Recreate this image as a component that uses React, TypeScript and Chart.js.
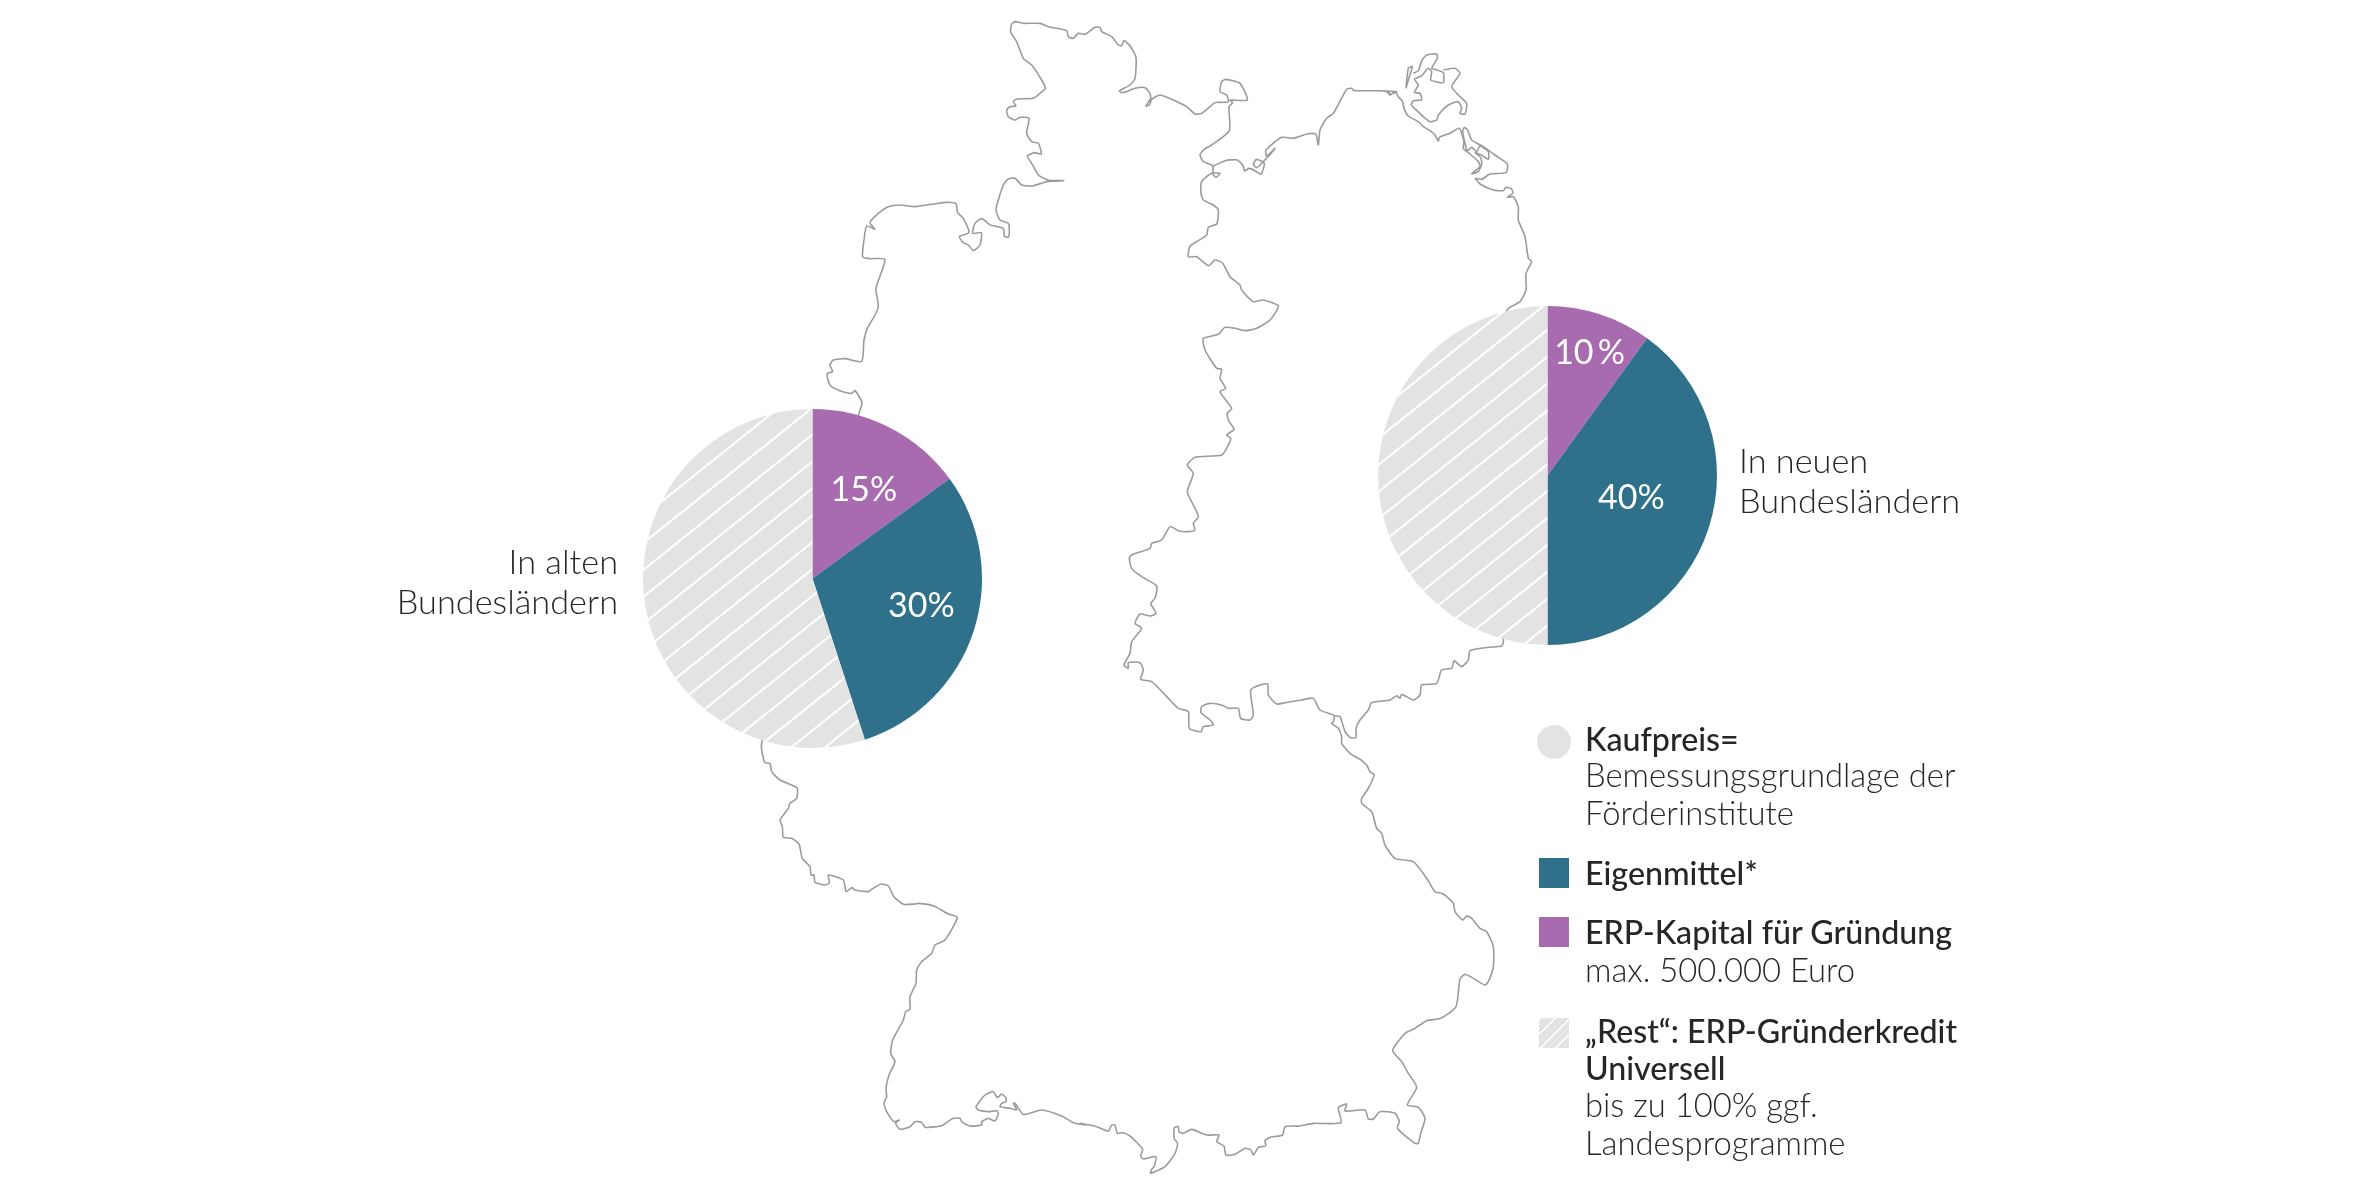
import React, { useEffect, useRef } from "react";
import { Chart, registerables } from "chart.js";

Chart.register(...registerables);

// ---- pie data -------------------------------------------------------------
const categories = ["ERP-Kapital für Gründung", "Eigenmittel", "ERP-Gründerkredit Universell"];
const altValues = [15, 30, 55];
const neuValues = [10, 40, 50];
const altLabels = ["15%", "30%", ""];
const neuLabels = ["10\u2009%", "40%", ""];
const altLabelRadius = [0.607, 0.662, 0];
const neuLabelRadius = [0.767, 0.512, 0];
const altLabelShiftDeg = [3, -4.1, 0];
const neuLabelShiftDeg = [0.9, -3.3, 0];

const TEAL = "#2f718b";
const PURPLE = "#a96baf";
const GREY = "#e3e3e3";
const LINE = "#9b9b9b";
const TEXT = "#262626";
const FONT = "Lato, 'Noto Sans', sans-serif";

type P = [number, number];
const crop = (x0: number, y0: number, pts: P[]) => pts.map(([x, y]) => ({ x: x0 + x / 3, y: y0 + y / 3 }));

const westCoast: P[] = [[205,645],[216,608],[195,572],[185,580],[150,572],[122,558],[114,540],[112,520],[128,515],[120,495],[130,480],[165,476],[215,484],[222,420],[232,385],[255,345],[265,318],[258,265],[285,178],[240,176],[218,170],[222,120],[230,78],[255,88],[240,68],[265,40],[295,20],[330,15],[375,20],[430,12],[470,7],[498,11],[503,38],[520,55],[537,97],[508,110],[520,128],[535,135],[550,152],[570,135],[574,98],[548,100],[555,70],[575,56],[600,75]];
const northSea: P[] = [[450,675],[490,685],[493,708],[505,712],[508,690],[505,670],[480,660],[468,630],[475,600],[490,555],[505,537],[525,535],[545,555],[575,558],[610,548],[625,544],[672,542],[625,541],[612,535],[595,525],[575,490],[562,468],[585,458],[604,462],[595,430],[575,425],[560,400],[567,355],[540,352],[525,360],[505,350],[500,330],[510,320],[528,318],[520,305],[530,297],[580,295],[600,280],[616,265],[605,240],[575,195],[550,175],[530,125],[512,95],[515,72],[525,65],[550,70],[600,70],[625,80],[680,92],[685,110],[700,115],[715,100],[735,103],[765,82],[780,82],[785,95],[815,110],[835,135],[845,137],[852,122],[872,140],[888,172],[885,235],[870,255],[838,273],[848,278],[885,265],[915,263],[930,280],[932,295],[918,318],[928,315],[935,298],[960,285],[1000,300],[1040,320],[1065,342],[1085,340],[1125,308],[1145,307],[1165,305],[1160,285],[1140,275],[1145,245],[1157,238],[1200,250],[1222,300],[1170,300],[1178,308],[1167,320],[1168,392],[1115,435],[1092,448],[1080,465],[1090,485],[1115,495],[1120,505],[1118,518],[1140,520],[1128,532],[1115,520],[1085,545],[1083,580],[1090,600],[1120,615],[1135,630],[1130,672],[1105,682],[1100,705],[1070,725],[1050,738],[1045,770],[1070,770],[1105,797],[1125,780],[1148,790],[1170,830],[1200,855],[1205,870],[1240,905],[1270,900],[1315,918],[1290,960],[1250,985],[1215,992],[1185,985],[1155,982],[1135,1003],[1090,1015],[1095,1050],[1130,1105],[1145,1108],[1140,1135],[1157,1165]];
const innerBorderSouth: P[] = [[360,155],[395,205],[382,220],[385,240],[402,268],[380,285],[392,295],[385,315],[365,345],[285,352],[262,375],[280,400],[262,455],[280,495],[295,530],[280,550],[285,570],[262,575],[235,572],[210,560],[185,600],[155,610],[150,625],[95,645],[88,655],[95,685],[125,710],[170,738],[165,775],[152,790],[168,820],[150,828],[120,822],[105,850],[125,865],[95,905],[90,940],[72,975],[85,985],[85,968],[120,968],[130,990],[122,1018],[155,1025],[210,1080],[235,1105],[265,1115],[268,1165],[303,1175],[310,1160],[340,1155],[330,1140],[303,1118],[305,1100],[330,1090],[370,1097],[385,1105],[415,1105],[422,1135],[450,1140],[460,1125],[452,1050],[480,1035],[503,1032],[505,1065],[530,1092],[555,1088],[605,1080],[640,1075],[660,1110],[700,1125],[703,1128],[700,1145],[695,1150],[715,1165],[725,1190],[725,1210],[750,1240],[780,1258]];
const bavariaEast: P[] = [[240,177],[260,195],[270,215],[283,225],[262,270],[245,295],[245,310],[275,335],[290,385],[305,400],[315,435],[345,475],[400,485],[440,535],[465,575],[490,582],[520,610],[525,635],[548,660],[560,648],[575,655],[600,685],[620,695],[640,740],[640,800],[628,838]];
const alpsEast: P[] = [[1215,255],[1175,232],[1155,223],[1140,237],[1128,320],[1082,355],[1040,362],[1005,385],[975,400],[938,452],[965,485],[985,520],[1010,562],[982,615],[1015,622],[1035,655],[1022,700],[1015,730],[1005,730],[952,685],[958,665],[945,640],[900,635],[880,657],[865,657],[855,630],[795,633],[800,612],[775,623],[783,668],[700,670],[660,678],[615,680],[608,705],[570,712],[555,722],[557,738],[535,742],[520,765],[513,750],[495,745],[465,763],[438,765],[432,738],[410,725],[417,705],[380,705],[335,688],[310,700],[297,695],[295,680],[283,683],[282,715],[293,730],[285,760],[255,800],[212,820],[215,808],[222,800],[228,770],[190,777],[182,768],[188,748],[165,722],[150,708],[130,698],[112,700],[105,675],[95,675],[85,693],[50,680],[0,670]];
const southWest: P[] = [[1040,1215],[1000,1208],[965,1188],[905,1170],[850,1183],[825,1150],[820,1150],[830,1170],[810,1165],[780,1160],[785,1150],[798,1145],[798,1135],[785,1122],[772,1133],[760,1115],[735,1125],[708,1160],[715,1170],[745,1175],[770,1172],[775,1180],[765,1203],[745,1195],[725,1205],[725,1215],[690,1218],[665,1205],[660,1195],[640,1195],[605,1217],[565,1222],[555,1222],[545,1207],[525,1205],[510,1220],[480,1228],[467,1210],[478,1200],[462,1205],[440,1175],[432,1150],[440,1130],[438,1105],[447,1065],[465,1025],[452,1000],[458,960],[490,900],[497,875],[510,868],[510,830],[528,790],[530,750],[545,725],[575,700],[585,675],[615,660],[652,592],[625,582],[580,557],[535,550],[525,552],[490,553],[462,530],[445,498],[423,492],[392,510],[385,515],[345,510],[335,503],[318,515],[310,480],[265,465],[268,488],[255,495],[225,487],[222,465],[213,465],[210,440],[187,415],[177,372],[155,355],[130,352],[127,320],[120,300],[145,265],[150,250],[170,235],[172,205],[160,197],[120,180],[95,155],[90,130],[75,128],[65,90],[65,68]];
const balticWest: P[] = [[190,408],[225,392],[262,390],[280,408],[283,423],[297,415],[315,422],[333,433],[343,400],[320,388],[310,402],[320,413],[340,395],[375,355],[350,378],[348,360],[395,322],[430,325],[470,312],[497,312],[505,345],[510,300],[530,265],[550,250],[590,178],[605,175],[612,182],[715,183],[720,193],[740,185]];
const balticEast: P[] = [[0,153],[20,155],[30,165],[45,155],[55,170],[68,185],[72,205],[85,228],[115,245],[130,260],[150,272],[165,285],[175,303],[178,292],[210,280],[238,265],[248,290],[252,305],[250,325],[270,342],[295,365],[300,380],[275,401],[295,395],[305,372],[302,352],[285,338],[305,345],[325,358],[325,335],[300,318],[290,335],[275,322],[262,332],[255,310],[248,275],[252,263],[262,268],[275,300],[310,320],[345,345],[382,372],[378,398],[330,402],[305,418],[286,415],[300,432],[340,450],[370,452],[378,442],[395,447],[398,460],[382,472],[400,470]];
const oder: P[] = [[1105,530],[1105,570],[1125,620],[1135,685],[1145,695],[1128,730],[1128,780],[1110,815],[1070,842]];
const czechBorder: P[] = [[1210,905],[1205,918],[1165,922],[1110,932],[1105,960],[1085,980],[1062,962],[1055,985],[1025,990],[1010,1030],[965,1035],[960,1065],[940,1080],[905,1063],[900,1075],[890,1067],[870,1080],[815,1088],[805,1110],[780,1140],[768,1165],[768,1193],[750,1192],[735,1175],[720,1130],[703,1128]];
const ruegen: P[] = [[93,195],[100,182],[125,180],[120,160],[103,157],[115,135],[103,118],[125,107],[145,85],[155,95],[152,120],[168,125],[190,128],[190,98],[165,88],[155,85],[172,55],[170,42],[140,45],[125,62],[115,92],[100,100],[115,92],[125,62]];
const ruegenEast: P[] = [[190,90],[225,85],[240,100],[215,140],[235,165],[260,190],[255,222],[240,220],[245,205],[235,185],[205,195],[175,225],[170,240],[150,245],[130,230],[93,195]];
const hiddensee: P[] = [[78,145],[85,85],[97,80],[88,110],[78,145]];

const westRing = [
  ...crop(790, 200, westCoast),
  ...crop(840, 0, northSea),
  ...crop(1100, 340, innerBorderSouth),
  ...crop(1280, 700, bavariaEast),
  ...crop(1080, 900, alpsEast),
  ...crop(740, 720, southWest),
  ...crop(790, 200, westCoast.slice(0, 1)),
];
const eastCoast = [
  ...crop(1150, 30, balticWest),
  ...crop(1380, 40, balticEast),
  ...crop(1150, 30, oder),
  ...crop(1100, 340, czechBorder),
];
const rugenLines = [crop(1380, 40, ruegen), crop(1380, 40, ruegenEast), crop(1380, 40, hiddensee)];

// ---- legend / captions ----------------------------------------------------
type Line = { text: string; strong?: boolean; base: number };
const legendLines: Line[] = [
  { text: "Kaufpreis=", strong: true, base: 751 },
  { text: "Bemessungsgrundlage der", base: 788 },
  { text: "Förderinstitute", base: 826 },
  { text: "Eigenmittel*", strong: true, base: 885 },
  { text: "ERP-Kapital für Gründung", strong: true, base: 944 },
  { text: "max. 500.000 Euro", base: 983 },
  { text: "„Rest“: ERP-Gründerkredit", strong: true, base: 1043 },
  { text: "Universell", strong: true, base: 1080 },
  { text: "bis zu 100% ggf.", base: 1118 },
  { text: "Landesprogramme", base: 1156 },
];

const HATCH_SLOPE_DEG = 38.66;

function makeHatch(ctx: CanvasRenderingContext2D, px: number, py: number) {
  const tile = document.createElement("canvas");
  tile.width = 8;
  tile.height = 21;
  const t = tile.getContext("2d")!;
  t.fillStyle = GREY;
  t.fillRect(0, 0, 8, 21);
  t.fillStyle = "#ffffff";
  t.fillRect(0, 0, 8, 1);
  t.fillRect(0, 20, 8, 1);
  const pattern = ctx.createPattern(tile, "repeat")!;
  pattern.setTransform(new DOMMatrix().translate(px, py).rotate(-HATCH_SLOPE_DEG));
  return pattern;
}

const pieLabelPlugin = {
  id: "pieLabels",
  afterDatasetsDraw(chart: any, _a: any, opts: any) {
    const { ctx } = chart;
    const arcs = chart.getDatasetMeta(0).data;
    ctx.save();
    ctx.fillStyle = "#ffffff";
    ctx.font = `400 34px ${FONT}`;
    ctx.textAlign = "center";
    ctx.textBaseline = "middle";
    arcs.forEach((arc: any, i: number) => {
      if (!opts.labels[i]) return;
      const mid = (arc.startAngle + arc.endAngle) / 2 + (opts.shift[i] * Math.PI) / 180;
      const r = arc.outerRadius * opts.radius[i];
      ctx.fillText(opts.labels[i], arc.x + Math.cos(mid) * r, arc.y + Math.sin(mid) * r + 1);
    });
    ctx.restore();
  },
};

function Pie(props: { values: number[]; labels: string[]; radius: number[]; shift: number[]; left: number; top: number; size: number; hatchX: number; hatchY: number }) {
  const ref = useRef<HTMLCanvasElement>(null);
  useEffect(() => {
    const ctx = ref.current!.getContext("2d")!;
    const chart = new Chart(ctx, {
      type: "pie",
      data: {
        labels: categories,
        datasets: [{
          data: props.values,
          backgroundColor: [PURPLE, TEAL, makeHatch(ctx, props.hatchX - props.left, props.hatchY - props.top)],
          borderWidth: 0,
        }],
      },
      options: {
        responsive: false,
        animation: false,
        events: [],
        layout: { padding: 0 },
        plugins: {
          legend: { display: false },
          tooltip: { enabled: false },
          pieLabels: { labels: props.labels, radius: props.radius, shift: props.shift },
        } as any,
      },
      plugins: [pieLabelPlugin],
    } as any);
    return () => chart.destroy();
  }, []);
  return (
    <canvas ref={ref} width={props.size} height={props.size}
      style={{ position: "absolute", left: props.left, top: props.top, width: props.size, height: props.size }} />
  );
}

function GermanyMap() {
  const ref = useRef<HTMLCanvasElement>(null);
  useEffect(() => {
    const base = { showLine: true, pointRadius: 0, borderColor: LINE, borderWidth: 1.6, tension: 0.2, fill: false };
    const chart = new Chart(ref.current!, {
      type: "scatter",
      data: {
        datasets: [
          { ...base, data: westRing },
          { ...base, data: eastCoast },
          ...rugenLines.map((d) => ({ ...base, data: d })),
        ],
      },
      options: {
        responsive: false,
        animation: false,
        events: [],
        layout: { padding: 0 },
        scales: {
          x: { type: "linear", min: 0, max: 2360, display: false },
          y: { type: "linear", min: 0, max: 1198, reverse: true, display: false },
        },
        plugins: { legend: { display: false }, tooltip: { enabled: false } },
      },
    } as any);
    return () => chart.destroy();
  }, []);
  return <canvas ref={ref} width={2360} height={1198} style={{ position: "absolute", left: 0, top: 0, width: 2360, height: 1198 }} />;
}

const textLine = (text: string, left: number | undefined, right: number | undefined, base: number, weight: number, size: number, key: string) => (
  <div key={key} style={{
    position: "absolute", left, right, top: Math.round(base - 20 - 0.387 * size), height: 40,
    font: `${weight} ${size}px/40px ${FONT}`, color: TEXT, whiteSpace: "nowrap",
  }}>{text}</div>
);

export default function App() {
  return (
    <div style={{ position: "absolute", left: 0, top: 0, width: 2360, height: 1198, overflow: "hidden", background: "#fff" }}>
      <GermanyMap />
      <Pie values={altValues} labels={altLabels} radius={altLabelRadius} shift={altLabelShiftDeg} left={643} top={409} size={339} hatchX={812} hatchY={435} />
      <Pie values={neuValues} labels={neuLabels} radius={neuLabelRadius} shift={neuLabelShiftDeg} left={1378} top={306} size={339} hatchX={1547} hatchY={357} />

      {textLine("In alten", undefined, 2360 - 618, 574, 300, 34.3, "a1")}
      {textLine("Bundesländern", undefined, 2360 - 618, 614, 300, 34.3, "a2")}
      {textLine("In neuen", 1739, undefined, 473, 300, 34.3, "n1")}
      {textLine("Bundesländern", 1739, undefined, 513, 300, 34.3, "n2")}

      <div style={{ position: "absolute", left: 1537, top: 725, width: 34, height: 34, borderRadius: "50%", background: GREY }} />
      <div style={{ position: "absolute", left: 1539, top: 858, width: 30, height: 30, background: TEAL }} />
      <div style={{ position: "absolute", left: 1539, top: 917, width: 30, height: 30, background: PURPLE }} />
      <div style={{
        position: "absolute", left: 1539, top: 1018, width: 30, height: 30,
        background: `repeating-linear-gradient(-45deg, ${GREY} 0, ${GREY} 9px, #fff 9px, #fff 10.5px)`,
      }} />
      {legendLines.map((l, i) => textLine(l.text, 1585, undefined, l.base, l.strong ? 500 : 300, l.strong ? 32.2 : 32.8, "l" + i))}
    </div>
  );
}
